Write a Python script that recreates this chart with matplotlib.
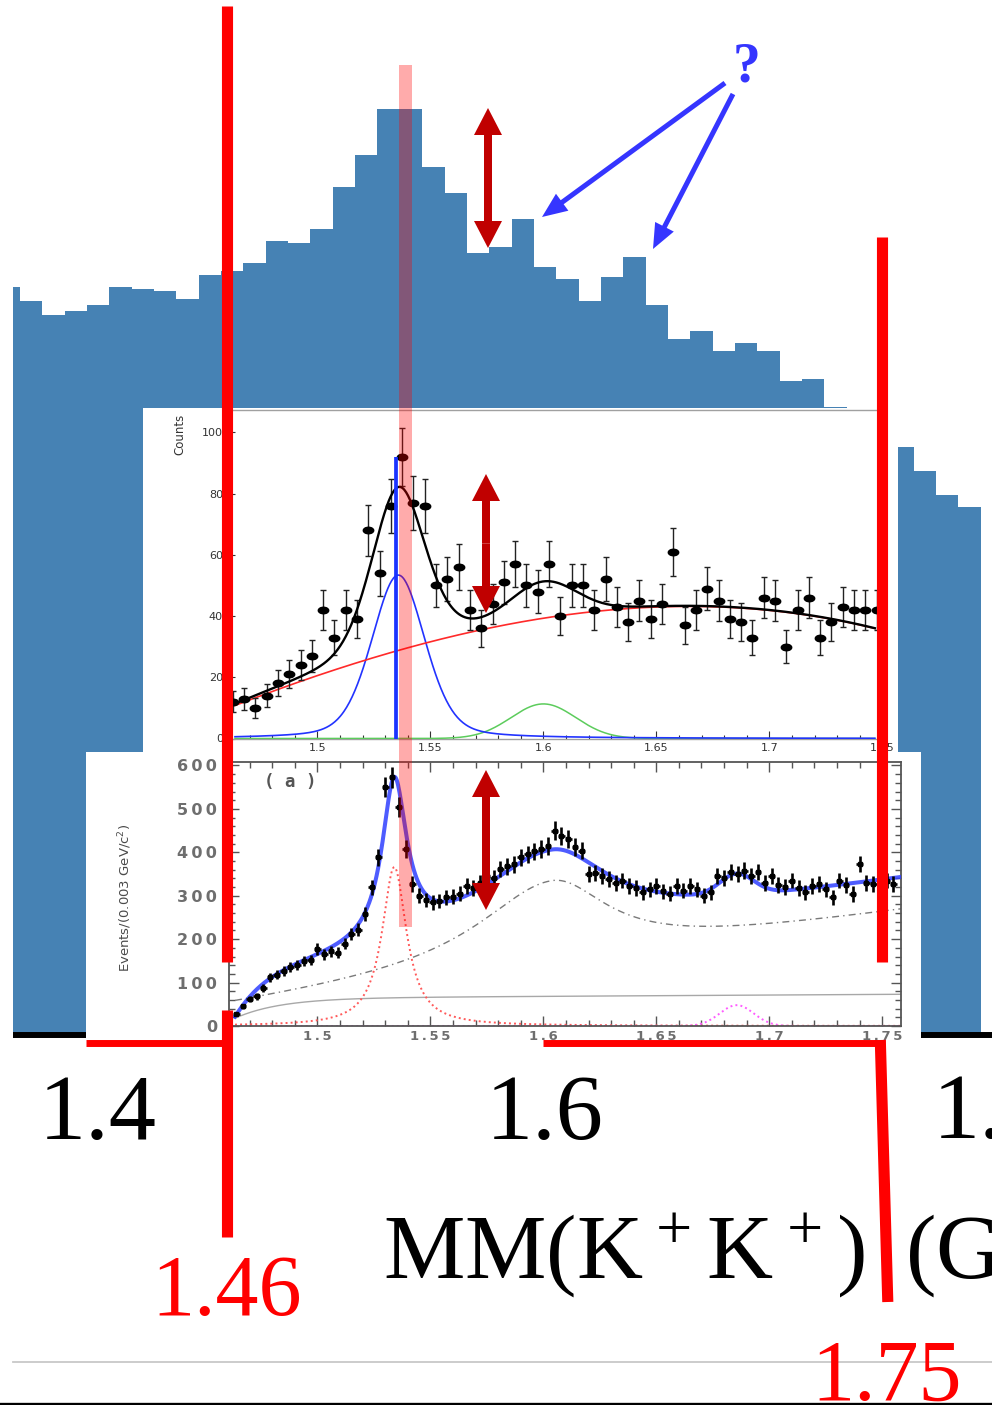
import numpy as np
import matplotlib
matplotlib.use("Agg")
import matplotlib.pyplot as plt
from matplotlib import font_manager
from matplotlib.patches import Rectangle, FancyArrow
from matplotlib.path import Path
from matplotlib.transforms import Affine2D
from matplotlib.ticker import MultipleLocator

plt.rcParams['mathtext.default'] = 'regular'

W, H = 992, 1405

# ---------------- background histogram: MM(K+K+) ----------------
hist_lo = 1.355
hist_bin = 0.01
hist_counts = [187, 183.5, 180, 181, 182.5, 187, 186.5, 186, 184, 190,
               191, 193, 198.5, 198, 201.5, 212, 220, 231.5, 231.5, 217,
               210.5, 195.5, 197, 204, 192, 189, 183.5, 189.5, 194.5, 182.5,
               174, 176, 171, 173, 171, 163.5, 164, 157, 152.5, 147,
               147, 141, 135, 132]
main_xlim = (1.3619, 1.7938)
main_ylim = (0, 258.75)
main_ticks = [1.4, 1.6, 1.8]
main_tick_labels = ['1.4', '1.6', '1.8']
main_xlabel = r'MM(K$^+$K$^+$)$\,$ (GeV)'

# ---------------- upper inset: counts per 5 MeV ----------------
up_lo = 1.46
up_bin = 0.005
up_counts = [12, 13, 10, 14, 18, 21, 24, 27, 42, 33,
             42, 39, 68, 54, 76, 92, 77, 76, 50, 52,
             56, 42, 36, 44, 51, 57, 50, 48, 57, 40,
             50, 50, 42, 52, 43, 38, 45, 39, 44, 61,
             37, 42, 49, 45, 39, 38, 33, 46, 45, 30,
             42, 46, 33, 38, 43, 42, 42, 42]
up_xlim = (1.46, 1.75)
up_ylim = (0, 107.35)
up_xticks = [1.5, 1.55, 1.6, 1.65, 1.7, 1.75]
up_xtick_labels = ['1.5', '1.55', '1.6', '1.65', '1.7', '1.75']
up_yticks = [0, 20, 40, 60, 80, 100]
up_fit_range = (1.4635, 1.7467)
# background polynomial: anchor values along the red curve
up_bg_x = [1.4635, 1.500, 1.535, 1.589, 1.657, 1.7467]
up_bg_y = [11.0, 20.0, 29.0, 38.0, 43.0, 36.0]
# signal line shape (pseudo-Voigt) and the second bump (Gaussian)
up_sig_mass, up_sig_fwhm, up_sig_amp, up_sig_eta = 1.5358, 0.028, 53.4, 0.3
up_bump_mass, up_bump_sigma, up_bump_amp = 1.600, 0.0143, 11.3
up_line_mass, up_line_top = 1.5347, 92

# ---------------- lower inset: events per 3 MeV ----------------
lo_first = 1.464
lo_bin = 0.003
lo_counts = [28, 45, 62, 68, 88, 112, 118, 127, 135, 140,
             150, 152, 177, 165, 172, 169, 190, 212, 222, 258,
             319, 389, 550, 573, 504, 408, 327, 300, 290, 285,
             288, 296, 298, 305, 323, 318, 330, 345, 340, 362,
             368, 372, 389, 395, 402, 408, 415, 450, 438, 431,
             412, 404, 350, 352, 345, 339, 330, 335, 322, 318,
             308, 315, 323, 310, 305, 323, 312, 323, 315, 300,
             308, 346, 340, 354, 350, 358, 345, 354, 330, 346,
             325, 320, 335, 318, 308, 322, 327, 315, 296, 335,
             325, 304, 373, 330, 327, 340, 335, 327]
lo_xlim = (1.461, 1.7585)
lo_ylim = (0, 608)
lo_xticks = [1.5, 1.55, 1.6, 1.65, 1.7, 1.75]
lo_xtick_labels = ['1.5', '1.55', '1.6', '1.65', '1.7', '1.75']
lo_yticks = [0, 100, 200, 300, 400, 500, 600]
lo_fit_range = (1.4635, 1.7585)
# Breit-Wigner peak
lo_bw_mass, lo_bw_width, lo_bw_amp = 1.534, 0.0132, 366.0
# dash-dotted component: linear baseline + asymmetric Lorentzian bump
lo_d_x0, lo_d_a, lo_d_b = 1.4635, 45.0, 740.0
lo_d_mass, lo_d_hl, lo_d_hr, lo_d_amp = 1.604, 0.040, 0.030, 186.0
# solid grey component: threshold rise + slope
lo_s_x0, lo_s_amp, lo_s_tau, lo_s_slope = 1.457, 64.0, 0.020, 30.0
# small Gaussian near 1.69
lo_m_mass, lo_m_sigma, lo_m_amp = 1.6856, 0.0075, 48.0
# threshold suppression of the total fit
lo_thr_mass, lo_thr_scale = 1.461, 0.008

# cut markers and highlighted mass
cut_low, cut_high = 1.46, 1.75
marker_mass = 1.539


def gauss(x, m, s, a):
    return a * np.exp(-0.5 * ((x - m) / s) ** 2)


def lorentz(x, m, half, a):
    return a / (1.0 + ((x - m) / half) ** 2)


def pseudo_voigt(x, m, fwhm, a, eta):
    s = fwhm / 2.3548
    return a * (eta * lorentz(x, m, fwhm / 2, 1.0) + (1 - eta) * gauss(x, m, s, 1.0))


fig = plt.figure(figsize=(W / 100, H / 100), dpi=100)


def px_axes(x0, y0, x1, y1, z):
    ax = fig.add_axes([x0 / W, 1 - y1 / H, (x1 - x0) / W, (y1 - y0) / H])
    ax.set_zorder(z)
    return ax


def blank_panel(ax):
    ax.set_xticks([])
    ax.set_yticks([])
    for s in ax.spines.values():
        s.set_visible(False)
    ax.set_facecolor('white')


def spaced(s):
    return '\u2009'.join(s)


# ---------------- main histogram ----------------
axm = px_axes(13, 0, 992, 1035, 1)
edges = hist_lo + hist_bin * np.arange(len(hist_counts) + 1)
axm.stairs(hist_counts, edges, fill=True, color='#4682B4', linewidth=0)
axm.set_xlim(*main_xlim)
axm.set_ylim(*main_ylim)
for s in ('left', 'right', 'top'):
    axm.spines[s].set_visible(False)
axm.spines['bottom'].set_linewidth(4.3)
axm.spines['bottom'].set_color('black')
axm.spines['bottom'].set_capstyle('butt')
axm.set_yticks([])
axm.set_xticks(main_ticks)
axm.set_xticklabels(main_tick_labels, fontfamily='Liberation Serif', fontsize=68)
axm.tick_params(axis='x', length=0, pad=28)

# ---------------- upper inset ----------------
pan1 = px_axes(143, 408, 898, 752, 2)
blank_panel(pan1)

axu = px_axes(227.1, 410, 882.3, 738.5, 3)
axu.patch.set_alpha(0)
axu.set_xlim(*up_xlim)
axu.set_ylim(*up_ylim)
for s in axu.spines.values():
    s.set_color('#a0a0a0')
    s.set_linewidth(1.0)
axu.set_xticks(up_xticks, up_xtick_labels)
axu.set_yticks(up_yticks)
axu.xaxis.set_minor_locator(MultipleLocator(0.01))
axu.yaxis.set_minor_locator(MultipleLocator(5))
axu.tick_params(which='both', direction='in', colors='#333333', labelsize=8, width=0.8)
axu.tick_params(which='major', length=6, pad=3)
axu.tick_params(which='minor', length=3)
axu.set_ylabel('Counts', fontsize=8.5, color='#333333')
axu.yaxis.label.set_rotation_mode('default')
axu.yaxis.label.set_va('center')
axu.yaxis.set_label_coords(-0.072, 0.927)

up_counts_a = np.array(up_counts, dtype=float)
up_centers = up_lo + up_bin * (np.arange(len(up_counts_a)) + 0.5)
ellipse = Path.unit_circle().transformed(Affine2D().scale(1.6, 1.0))
axu.errorbar(up_centers, up_counts_a, yerr=np.sqrt(up_counts_a), fmt='none',
             ecolor='#222222', elinewidth=1.0, capsize=2.2, capthick=1.0, zorder=4)
axu.plot(up_centers, up_counts_a, ls='none', marker=ellipse, ms=7.5,
         color='black', zorder=5)

xs = np.linspace(*up_fit_range, 700)
up_bg = np.polyval(np.polyfit(up_bg_x, up_bg_y, 3), xs)
up_sig = pseudo_voigt(xs, up_sig_mass, up_sig_fwhm, up_sig_amp, up_sig_eta)
up_bump = gauss(xs, up_bump_mass, up_bump_sigma, up_bump_amp)
axu.plot(xs, up_bump, color='#5ccc5c', lw=1.1, zorder=3)
axu.plot(xs, up_sig, color='#2233ff', lw=1.2, zorder=3)
axu.plot(xs, up_bg, color='#ff2a2a', lw=1.2, zorder=3)
axu.plot(xs, up_bg + up_sig + up_bump, color='black', lw=1.7, zorder=6)
axu.vlines(up_line_mass, 0, up_line_top, color='#1a33ff', lw=2.7, zorder=7)

# ---------------- lower inset ----------------
pan2 = px_axes(86, 752, 921, 1040, 4)
blank_panel(pan2)

axl = px_axes(229.4, 762, 901.4, 1026, 5)
axl.patch.set_alpha(0)
axl.set_xlim(*lo_xlim)
axl.set_ylim(*lo_ylim)
for s in axl.spines.values():
    s.set_color('#555555')
    s.set_linewidth(1.3)
axl.set_xticks(lo_xticks, [spaced(t) for t in lo_xtick_labels])
axl.set_yticks(lo_yticks, [spaced(str(t)) for t in lo_yticks])
axl.xaxis.set_minor_locator(MultipleLocator(0.01))
axl.yaxis.set_minor_locator(MultipleLocator(20))
axl.tick_params(which='both', direction='in', top=True, right=True,
                color='#555555', width=1.0)
axl.tick_params(which='major', length=7)
axl.tick_params(which='minor', length=4)
axl.tick_params(axis='y', labelsize=11.5, labelcolor='#6e6e6e', pad=9)
axl.tick_params(axis='x', labelsize=9.5, labelcolor='#6e6e6e', pad=3)
for lbl in axl.get_xticklabels() + axl.get_yticklabels():
    lbl.set_fontweight('bold')

names = {f.name for f in font_manager.fontManager.ttflist}
if 'Liberation Sans Narrow' in names:
    ylab_family, ylab_size = 'Liberation Sans Narrow', 12
else:
    ylab_family, ylab_size = 'DejaVu Sans', 9.5
axl.set_ylabel('Events/(0.003 GeV/c$^2$)', fontfamily=ylab_family,
               fontsize=ylab_size, color='#4a4a4a')
axl.yaxis.label.set_rotation_mode('default')
axl.yaxis.label.set_va('center')
axl.yaxis.set_label_coords(-0.155, 0.485)
axl.text(0.09, 0.924, '( a )', transform=axl.transAxes, ha='center', va='center',
         fontfamily='DejaVu Sans Mono', fontweight='bold', fontsize=12.5,
         color='#555555')

xs2 = np.linspace(*lo_fit_range, 900)
lo_bw = lorentz(xs2, lo_bw_mass, lo_bw_width / 2, lo_bw_amp)
half = np.where(xs2 < lo_d_mass, lo_d_hl, lo_d_hr)
lo_d = lo_d_a + lo_d_b * (xs2 - lo_d_x0) + lo_d_amp / (1 + ((xs2 - lo_d_mass) / half) ** 2)
t = np.clip(xs2 - lo_s_x0, 0, None)
lo_s = lo_s_amp * (1 - np.exp(-t / lo_s_tau)) + lo_s_slope * t
lo_m = gauss(xs2, lo_m_mass, lo_m_sigma, lo_m_amp)
thr = 1 - np.exp(-np.clip(xs2 - lo_thr_mass, 0, None) / lo_thr_scale)
lo_total = thr * (lo_bw + lo_d + lo_s + lo_m)

axl.plot(xs2, lo_s, color='#a8a8a8', lw=1.0, zorder=2)
axl.plot(xs2, lo_d, color='#7a7a7a', lw=1.0, ls=(0, (5, 3, 1, 3)), zorder=2)
axl.plot(xs2, lo_bw, color='#ff5a5a', lw=1.4, ls=(0, (1, 1.6)), zorder=2)
axl.plot(xs2, lo_m, color='#ff5cff', lw=1.4, ls=(0, (1, 1.6)), zorder=2)
axl.plot(xs2, lo_total, color='#2f3fff', lw=2.9, alpha=0.85, zorder=3)

lo_counts_a = np.array(lo_counts, dtype=float)
lo_centers = lo_first + lo_bin * np.arange(len(lo_counts_a))
axl.errorbar(lo_centers, lo_counts_a, xerr=lo_bin / 2, yerr=np.sqrt(lo_counts_a),
             fmt='s', ms=3, color='black', elinewidth=1.9, capsize=0, zorder=4)

# ---------------- overlay: cuts, arrows, labels ----------------
ov = px_axes(0, 0, W, H, 10)
ov.set_xlim(0, W)
ov.set_ylim(H, 0)
ov.axis('off')


def xpix(ax, x):
    return ax.transData.transform((x, 0))[0]


x_lo = xpix(axu, cut_low)
x_hi = xpix(axu, cut_high)
x_mk = xpix(axu, marker_mass)

ov.add_patch(Rectangle((x_mk - 6.5, 65), 13, 862, facecolor='red', alpha=0.33, lw=0))

red = dict(color='#ff0000', solid_capstyle='butt')
ov.plot([x_lo, x_lo], [6, 962], lw=8, **red)
ov.plot([x_lo, x_lo], [1010, 1237], lw=8, **red)
ov.plot([86, x_lo + 4], [1043, 1043], lw=5, **red)
ov.plot([x_hi, x_hi], [237, 962], lw=8, **red)
ov.plot([543, x_hi + 3], [1043, 1043], lw=5, **red)
ov.plot([x_hi - 2, x_hi + 5.5], [1040, 1302], lw=8, **red)

ov.text(x_lo, 1315, '1.46', color='#ff0000', fontfamily='Liberation Serif',
        fontsize=62, ha='center', va='baseline')
ov.text(x_hi + 4, 1400, '1.75', color='#ff0000', fontfamily='Liberation Serif',
        fontsize=62, ha='center', va='baseline')

ov.text(383, 1278, main_xlabel, fontfamily='Liberation Serif', fontsize=66,
        ha='left', va='baseline', color='black')


def double_arrow(x, y_top, y_bot, color):
    ym = 0.5 * (y_top + y_bot)
    for yend in (y_top, y_bot):
        ov.add_patch(FancyArrow(x, ym, 0, yend - ym, width=8, head_width=28,
                                head_length=27, length_includes_head=True,
                                color=color, lw=0))


dark_red = '#c00000'
double_arrow(488, 108, 248, dark_red)
double_arrow(486, 474, 613, dark_red)
double_arrow(486, 770, 910, dark_red)

blue = '#3535ff'
ov.add_patch(FancyArrow(725, 83, 542 - 725, 217 - 83, width=5, head_width=21,
                        head_length=25, length_includes_head=True, color=blue, lw=0))
ov.add_patch(FancyArrow(733, 94, 653 - 733, 249 - 94, width=5, head_width=21,
                        head_length=25, length_includes_head=True, color=blue, lw=0))
ov.text(747, 82, '?', color=blue, fontfamily='Liberation Serif', fontweight='bold',
        fontsize=40, ha='center', va='baseline')

ov.plot([13, W], [1362, 1362], color='#c8c8c8', lw=1.3)
ov.plot([0, W], [1403.5, 1403.5], color='black', lw=2.4)

fig.savefig('out.png', dpi=100)
